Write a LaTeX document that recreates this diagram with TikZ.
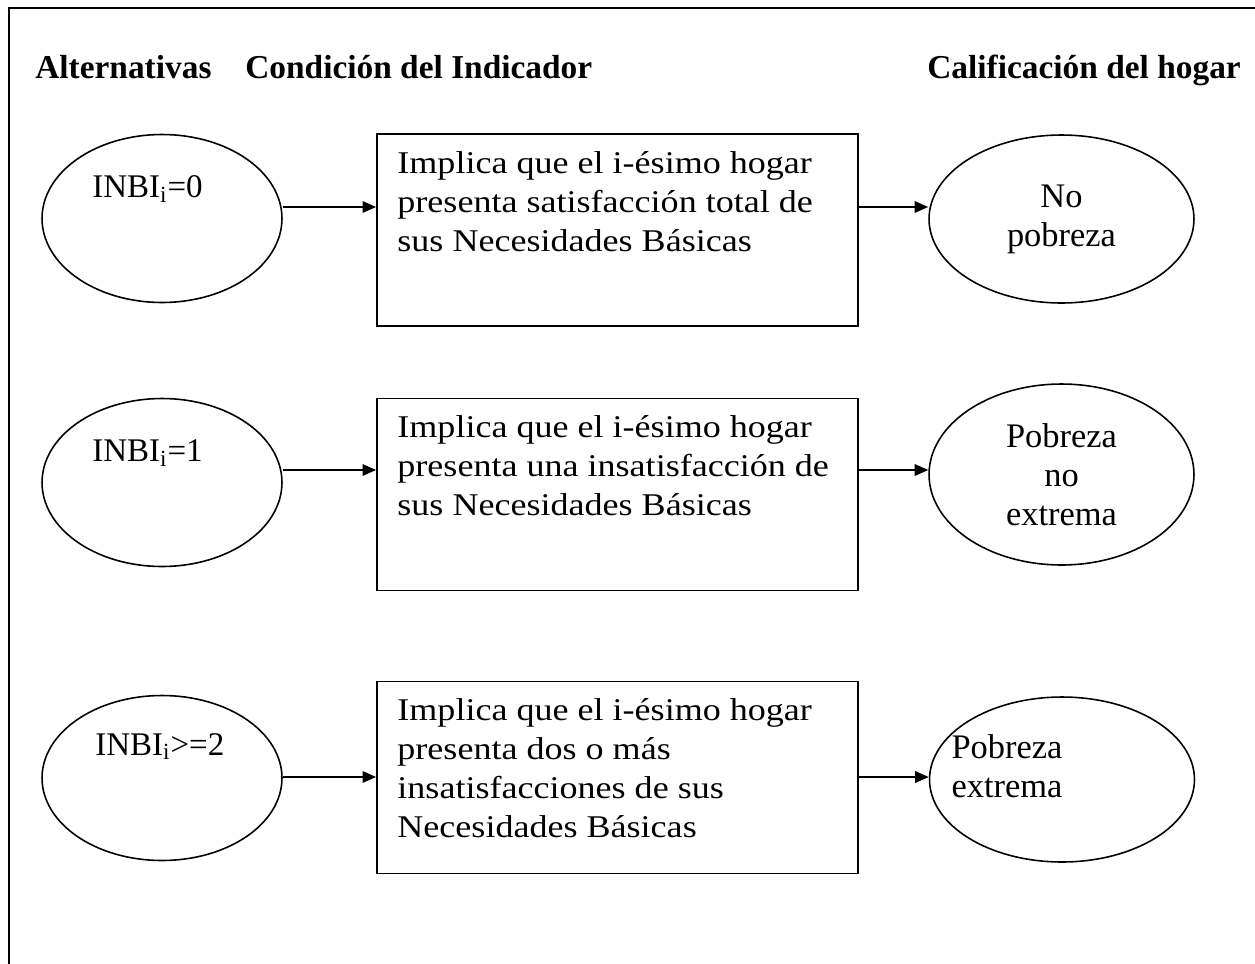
\documentclass[tikz,border=0pt]{standalone}
\usepackage{fontspec}
\setmainfont{Liberation Serif}[FakeStretch=1.14]
\newfontfamily\ovalfont{Liberation Serif}
\newfontfamily\headfont{Liberation Serif}
\newfontfamily\inbifont{Liberation Serif}
\usetikzlibrary{shapes.geometric,positioning,calc,arrows.meta}

\tikzset{
	alt/.style={draw, ellipse, line width=0.9pt, minimum width=4.8cm, minimum height=3.36cm, inner sep=0pt},
	calif/.style={draw, ellipse, line width=0.9pt, minimum width=5.3cm, minimum height=3.36cm, inner sep=0pt, align=center, font=\ovalfont\fontsize{19.6}{22.2}\selectfont},
	cond/.style={draw, rectangle, line width=1.1pt, minimum width=9.62cm, minimum height=3.84cm},
	condtxt/.style={inner sep=0pt, align=left, font=\fontsize{18}{22.2}\selectfont},
	inbi/.style={inner sep=0pt, font=\inbifont\fontsize{18.8}{22}\selectfont},
	head/.style={inner sep=0pt, font=\headfont\bfseries\fontsize{19}{22}\selectfont},
	flecha/.style={-{Triangle[length=0.27cm,width=0.23cm]}, line width=0.9pt}
}

\begin{document}
\begin{tikzpicture}[x={(0.02cm,0cm)}, y={(0cm,-0.02cm)}] % 1 unidad = 1 pixel, y hacia abajo
		
		\useasboundingbox (0,0) rectangle (1255,964);
		\draw[line width=1.1pt] (9,964) -- (9,8) -- (1255,8);
		
		\node[head, anchor=base west] (h1) at (35,78) {Alternativas};
		\node[head, anchor=base west] (h2) at (245,78) {Condición del Indicador};
		\node[head, anchor=base west] (h3) at (927,78) {Calificación del hogar};
		
		\coordinate (r1) at (0,207);
		\coordinate (r2) at (0,470);
		\coordinate (r3) at (0,777);
		
		% fila 1
		\node[alt] (a1) at (162,218.5) {};
		\node[inbi, anchor=base west] (l1) at ([shift={(-70,-21)}]a1.center) {INBI\textsubscript{i}=0};
		\node[cond] (c1) at (617.5,230) {};
		\node[condtxt, anchor=north west] (t1) at ([shift={(21,18)}]c1.north west)
		{Implica que el i-ésimo hogar\\ presenta satisfacción total de\\ sus Necesidades Básicas};
		\node[calif] (e1) at (1061.5,219) {No\\ pobreza};
		\draw[flecha] (a1.east |- r1) -- (c1.west |- r1);
		\draw[flecha] (c1.east |- r1) -- (e1.west |- r1);
		
		% fila 2
		\node[alt] (a2) at (162,482.5) {};
		\node[inbi, anchor=base west] (l2) at ([shift={(-70,-21)}]a2.center) {INBI\textsubscript{i}=1};
		\node[cond] (c2) at (617.5,494.5) {};
		\node[condtxt, anchor=north west] (t2) at ([shift={(21,18)}]c2.north west)
		{Implica que el i-ésimo hogar\\ presenta una insatisfacción de\\ sus Necesidades Básicas};
		\node[calif, minimum height=3.62cm] (e2) at (1061.5,474.5) {Pobreza\\ no\\ extrema};
		\draw[flecha] (a2.east |- r2) -- (c2.west |- r2);
		\draw[flecha] (c2.east |- r2) -- (e2.west |- r2);
		
		% fila 3
		\node[alt, minimum height=3.3cm] (a3) at (162,778) {};
		\node[inbi, anchor=base west] (l3) at ([shift={(-67,-23)}]a3.center) {INBI\textsubscript{i}>=2};
		\node[cond] (c3) at (617.5,777.5) {};
		\node[condtxt, anchor=north west] (t3) at ([shift={(21,18)}]c3.north west)
		{Implica que el i-ésimo hogar\\ presenta dos o más\\ insatisfacciones de sus\\ Necesidades Básicas};
		\node[calif, minimum height=3.3cm] (e3) at (1062,779.5) {};
		\node[calif, draw=none, minimum width=0pt, minimum height=0pt] (p3) at (1007,766) {Pobreza\\ extrema};
		\draw[flecha] (a3.east |- r3) -- (c3.west |- r3);
		\draw[flecha] (c3.east |- r3) -- (e3.west |- r3);
		
\end{tikzpicture}
\end{document}
